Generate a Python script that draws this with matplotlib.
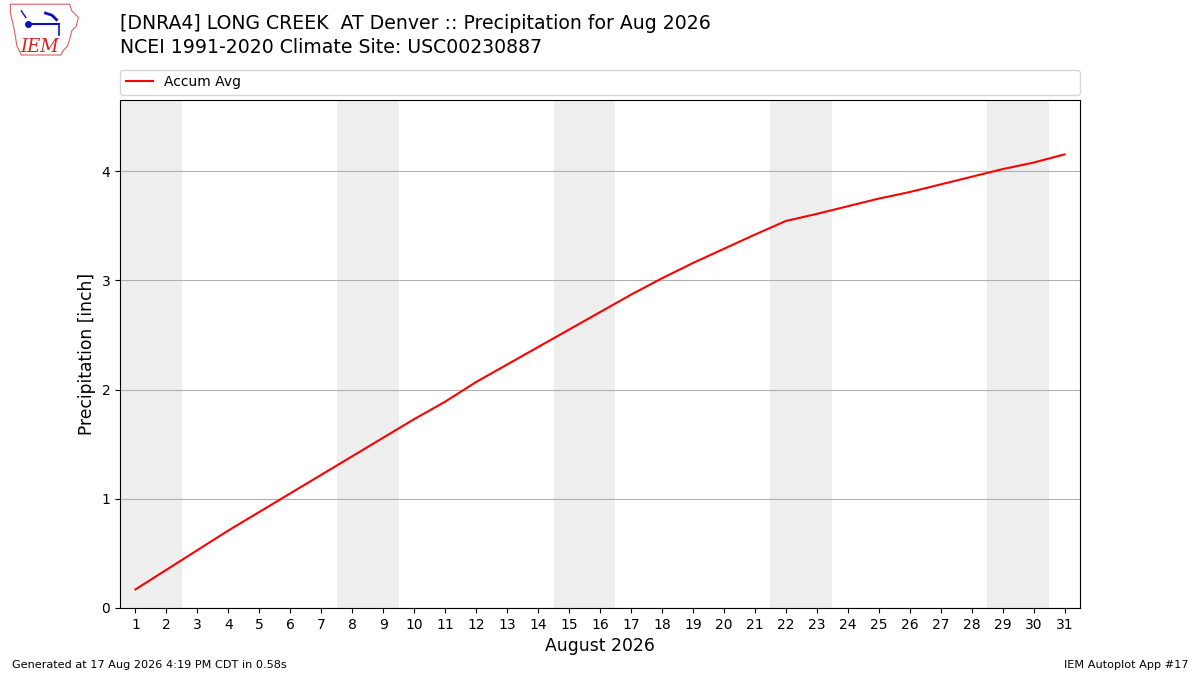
import matplotlib
matplotlib.use("Agg")
import matplotlib.pyplot as plt
from matplotlib.patches import Polygon

days = list(range(1, 32))
accum_avg = [0.17, 0.35, 0.53, 0.71, 0.88, 1.05, 1.22, 1.39, 1.56, 1.73, 1.89,
             2.07, 2.23, 2.39, 2.55, 2.71, 2.87, 3.02, 3.16, 3.29, 3.42, 3.545,
             3.61, 3.68, 3.75, 3.81, 3.88, 3.95, 4.02, 4.08, 4.155]
weekend_starts = [1, 8, 15, 22, 29]
xtick_labels = [str(d) for d in days]

title_line1 = "[DNRA4] LONG CREEK  AT Denver :: Precipitation for Aug 2026"
title_line2 = "NCEI 1991-2020 Climate Site: USC00230887"

fig = plt.figure(figsize=(12, 6.75), dpi=100)
ax = fig.add_axes([0.1, 0.0993, 0.8, 0.7526])

for s in weekend_starts:
    ax.axvspan(s - 0.5, s + 1.5, color="#EEEEEE", zorder=0, lw=0)

ax.plot(days, accum_avg, color="red", lw=1.5, label="Accum Avg", zorder=3)
ax.set_xlim(0.5, 31.5)
ax.set_ylim(0, max(accum_avg) * 1.12)
ax.set_xticks(days)
ax.set_xticklabels(xtick_labels)
ax.set_yticks([0, 1, 2, 3, 4])
ax.yaxis.grid(True, color="#B0B0B0", lw=0.8)
ax.set_axisbelow(True)
ax.set_ylabel("Precipitation [inch]", fontsize=12.3)
ax.set_xlabel("August 2026", fontsize=12.4)
ax.tick_params(labelsize=10)

ax.legend(loc="lower left", bbox_to_anchor=(0.0, 1.01, 1.0, 0.05), mode="expand",
          ncol=1, fontsize=10, borderaxespad=0, frameon=True)

fig.text(0.1, 0.965, title_line1, fontsize=13.6, va="center", ha="left")
fig.text(0.1, 0.930, title_line2, fontsize=13.6, va="center", ha="left")

fig.text(0.01, 0.015, "Generated at 17 Aug 2026 4:19 PM CDT in 0.58s", fontsize=8.1, ha="left", va="center")
fig.text(0.99, 0.015, "IEM Autoplot App #17", fontsize=8.1, ha="right", va="center")

# logo approximation
lax = fig.add_axes([0.005, 0.912, 0.064, 0.085])
lax.set_xlim(0, 70)
lax.set_ylim(0, 52)
lax.axis("off")
outline = [(4, 50), (58, 50), (60, 44), (66, 38), (64, 30), (60, 26), (58, 18),
           (56, 12), (52, 8), (50, 4), (14, 4), (10, 12), (8, 24), (6, 34), (4, 42)]
lax.add_patch(Polygon(outline, closed=True, fill=False, edgecolor="#E06060", lw=0.8))
lax.text(13, 7, "IEM", color="#D42020", fontsize=13, family="DejaVu Serif", style="italic")
lax.plot([20, 48], [32, 32], color="#1010C0", lw=1.5)
lax.plot([20], [32], "o", color="#1010C0", ms=4)
lax.plot([36, 42, 46], [42, 40, 36], color="#1010C0", lw=2)
lax.plot([48, 48], [32, 22], color="#1010C0", lw=1.2)
lax.plot([14, 18], [44, 38], color="#1010C0", lw=1)

fig.savefig("out.png", dpi=100)
